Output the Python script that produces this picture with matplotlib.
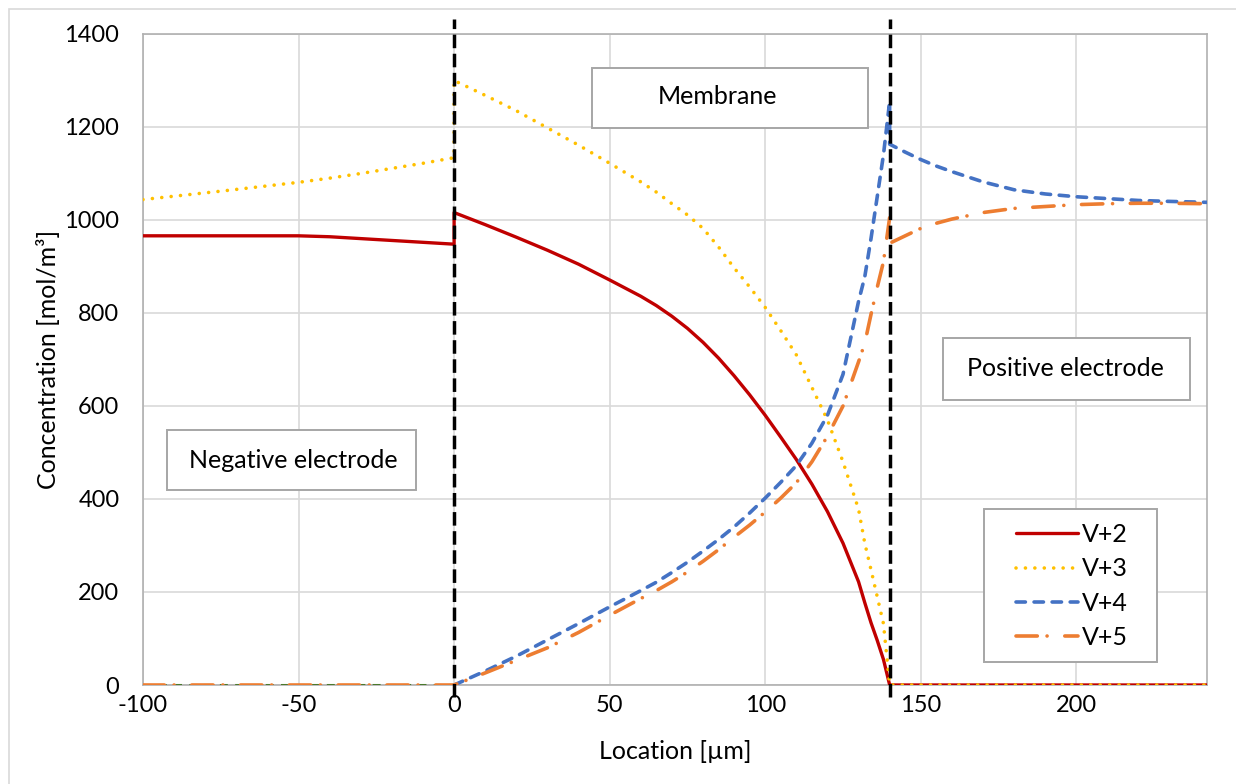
import numpy as np
import matplotlib.pyplot as plt
from matplotlib.patches import Rectangle
from matplotlib.lines import Line2D


plt.rcParams.update({"font.family": ["Lato", "DejaVu Sans"], "font.size": 17,
                     "axes.unicode_minus": False})

W, H = 1236, 784

# Negative electrode (-100 .. 0 um)
x_neg = [-100, -75, -50, -40, -30, -20, -10, 0]
v2_neg = [966, 966, 966, 964, 960, 956, 952, 948]
v3_neg = [1044, 1062, 1081, 1090, 1100, 1111, 1122, 1134]
v4_neg = [0, 0, 0, 0, 0, 0, 0, 0]
v5_neg = [0, 0, 0, 0, 0, 0, 0, 0]

# Membrane (0 .. 140 um)
x_mem = [0, 10, 20, 30, 40, 50, 60, 65, 70, 75, 80, 85, 90, 95, 100, 105, 110, 115, 120, 125,
         130, 132, 134, 136, 138, 140]
v2_mem = [1016, 990, 963, 935, 905, 871, 836, 816, 793, 767, 737, 703, 665, 624, 580, 533, 485, 432, 373, 305,
          222, 177, 134, 96, 55, 0]
v3_mem = [1300, 1268, 1235, 1198, 1161, 1122, 1082, 1060, 1035, 1011, 982, 942, 897, 856, 812, 762, 710, 640, 570, 480,
          378, 305, 248, 190, 132, 0]
v4_mem = [0, 30, 62, 97, 132, 168, 203, 221, 242, 264, 288, 313, 340, 370, 402, 436, 472, 520, 580, 668,
          825, 878, 960, 1050, 1140, 1255]
v5_mem = [0, 26, 53, 80, 113, 150, 186, 203, 222, 243, 266, 291, 318, 344, 372, 402, 435, 480, 535, 600,
          695, 735, 797, 855, 910, 1005]

# Positive electrode (140 .. 242 um)
x_pos = [140, 145, 150, 155, 160, 170, 180, 190, 200, 210, 220, 230, 242]
v2_pos = [0, 0, 0, 0, 0, 0, 0, 0, 0, 0, 0, 0, 0]
v3_pos = [0, 0, 0, 0, 0, 0, 0, 0, 0, 0, 0, 0, 0]
v4_pos = [1163, 1146, 1130, 1116, 1104, 1082, 1065, 1056, 1050, 1046, 1042, 1040, 1038]
v5_pos = [950, 966, 982, 993, 1002, 1016, 1025, 1029, 1033, 1035, 1036, 1036, 1035]

boundaries = [0, 140]
x_ticks = [-100, -50, 0, 50, 100, 150, 200]
y_ticks = [0, 200, 400, 600, 800, 1000, 1200, 1400]

x_all = x_neg + x_mem + x_pos
x_right = x_mem + x_pos

fig = plt.figure(figsize=(W / 100, H / 100), dpi=100)
ax = fig.add_axes([143 / W, 1 - 685 / H, (1207 - 143) / W, (685 - 34) / H])

# chart area border
fig.patches.append(Rectangle((9 / W, -0.05), 1.2, 1 - 9 / H + 0.05, transform=fig.transFigure,
                             facecolor="none", edgecolor="#d9d9d9", linewidth=1.2))

styles = {
    "V+2": dict(color="#C00000", linewidth=2.4, solid_capstyle="round"),
    "V+3": dict(color="#FFC000", linewidth=2.6, linestyle=(0, (0.01, 2.6)), dash_capstyle="round"),
    "V+4": dict(color="#4472C4", linewidth=2.6, linestyle=(0, (2.6, 2.4)), dash_capstyle="round"),
    "V+5": dict(color="#ED7D31", linewidth=2.6, linestyle=(0, (5.9, 2.7, 0.01, 4.9)), dash_capstyle="round"),
}

ax.plot(x_all, v2_neg + v2_mem + v2_pos, zorder=3, **styles["V+2"])
ax.plot(x_all, v3_neg + v3_mem + v3_pos, zorder=3, **styles["V+3"])
ax.plot(x_neg, v4_neg, color="#4a7a2c", linewidth=2.2, linestyle=(0, (2.6, 2.4)), zorder=3)
ax.plot(x_right, v4_mem + v4_pos, zorder=3, **styles["V+4"])
ax.plot(x_all, v5_neg + v5_mem + v5_pos, zorder=3, **styles["V+5"])

# region boundaries
for xb in boundaries:
    ax.axvline(xb, ymin=-0.018, ymax=1.023, color="black", linewidth=2.5,
               linestyle=(0, (3.9, 1.6)), clip_on=False, zorder=4)

ax.set_xlim(-100, 242)
ax.set_ylim(0, 1400)
ax.set_xticks(x_ticks)
ax.set_yticks(y_ticks)
ax.grid(True, color="#d9d9d9", linewidth=1.2, zorder=0)
ax.set_axisbelow(True)
ax.tick_params(length=0)
ax.tick_params(axis="y", pad=17)
ax.tick_params(axis="x", pad=7)
for spine in ax.spines.values():
    spine.set_color("#b0b0b0")
    spine.set_linewidth(1.2)

ax.set_xlabel("Location [µm]", fontsize=18)
ax.set_ylabel("Concentration [mol/m³]", fontsize=18)
ax.xaxis.set_label_coords(0.5, -(740 - 685) / 651)
ax.yaxis.set_label_coords(-(143 - 60) / 1064, 0.5)

# region labels
boxes = [
    ("Membrane", (592, 68, 868, 128), (717, 96)),
    ("Negative electrode", (167, 430, 416, 490), (293, 460)),
    ("Positive electrode", (943, 338, 1190, 400), (1065, 368)),
]
for text, (x0, y0, x1, y1), (tx, ty) in boxes:
    ax.add_patch(Rectangle((x0 / W, 1 - y1 / H), (x1 - x0) / W, (y1 - y0) / H,
                           transform=fig.transFigure, facecolor="white",
                           edgecolor="#a6a6a6", linewidth=1.4, zorder=5))
    ax.text(tx / W, 1 - ty / H, text, transform=fig.transFigure, ha="center",
            va="center", fontsize=18, zorder=6)

# legend in its own framed box
ax.add_patch(Rectangle((984 / W, 1 - 662 / H), (1157 - 984) / W, (662 - 509) / H,
                       transform=fig.transFigure, facecolor="white",
                       edgecolor="#a6a6a6", linewidth=1.4, zorder=6))
handles = [Line2D([], [], **styles[k]) for k in styles]
leg = ax.legend(handles, list(styles), loc="center",
                bbox_to_anchor=(1072 / W, 1 - 586 / H), bbox_transform=fig.transFigure,
                frameon=False, handlelength=2.5, labelspacing=0.45,
                handletextpad=0.15, borderpad=0, fontsize=18)
leg.set_zorder(7)

fig.savefig("out.png", dpi=100)
